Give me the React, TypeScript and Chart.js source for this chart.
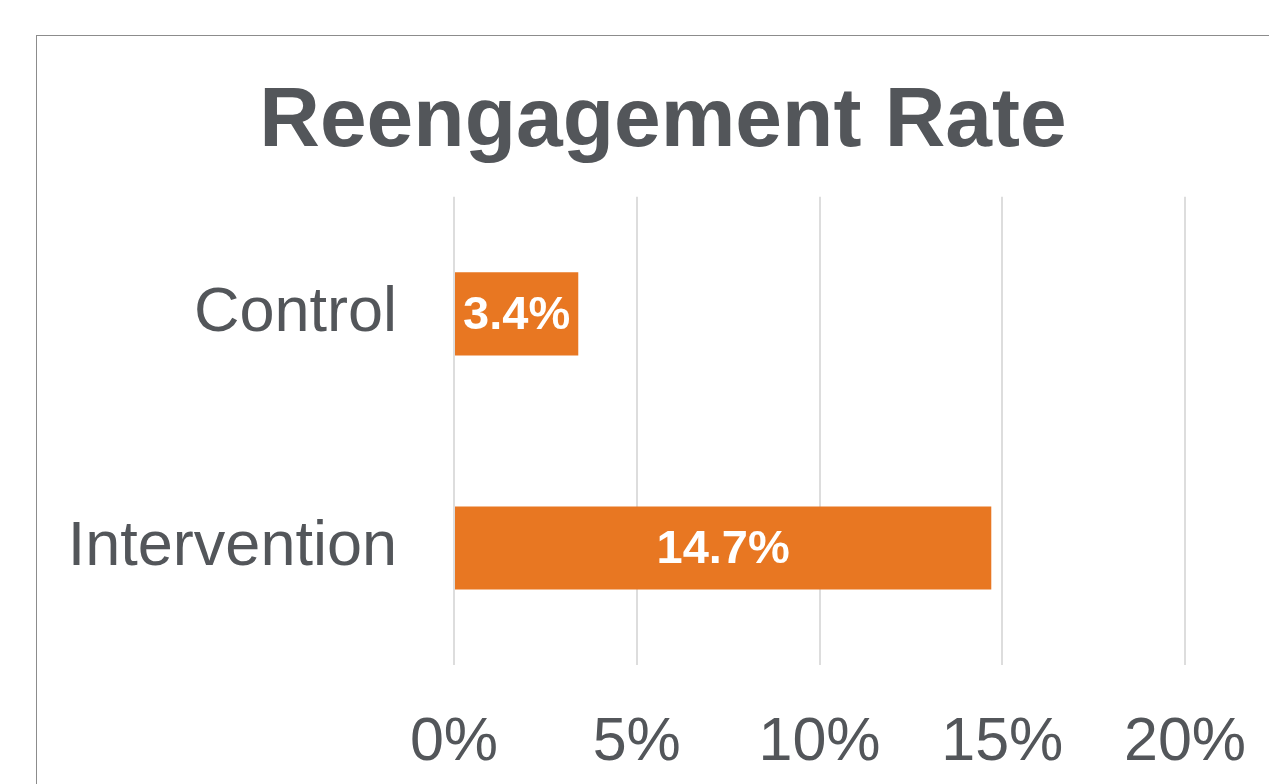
import { useEffect, useRef } from "react";
import { Chart, registerables } from "chart.js";

Chart.register(...registerables);

const chartTitle = "Reengagement Rate";
const categories = ["Control", "Intervention"];
const rates = [3.4, 14.7];
const tickValues = [0, 5, 10, 15, 20];

const TEXT = "#53565A";
const BAR = "#E87722";
const FONT = "'Liberation Sans', Arial, sans-serif";

const W = 1252;
const H = 800;

const barLabels = {
  id: "barLabels",
  afterDatasetsDraw(chart: any) {
    const ctx = chart.ctx;
    const meta = chart.getDatasetMeta(0);
    meta.data.forEach((bar: any, i: number) => {
      const { x, y, base, height } = bar.getProps(["x", "y", "base", "height"], true);
      ctx.save();
      ctx.beginPath();
      ctx.rect(base, y - height / 2, x - base, height);
      ctx.clip();
      ctx.fillStyle = "#FFFFFF";
      ctx.font = `bold 47px ${FONT}`;
      ctx.textAlign = "center";
      ctx.textBaseline = "middle";
      ctx.fillText(rates[i].toFixed(1) + "%", (x + base) / 2, y + 2);
      ctx.restore();
    });
  },
};

export default function App() {
  const ref = useRef<HTMLCanvasElement | null>(null);

  useEffect(() => {
    if (!ref.current) return;
    const chart = new Chart(ref.current, {
      type: "bar",
      data: {
        labels: categories,
        datasets: [
          {
            data: rates,
            backgroundColor: BAR,
            borderWidth: 0,
            barPercentage: 0.355,
            categoryPercentage: 1,
          },
        ],
      },
      options: {
        indexAxis: "y",
        responsive: false,
        animation: false,
        layout: { padding: 0 },
        plugins: {
          legend: { display: false },
          tooltip: { enabled: false },
          title: {
            display: true,
            text: chartTitle,
            color: TEXT,
            font: { family: FONT, size: 84, weight: "bold", lineHeight: 1.2 },
            padding: { top: 36, bottom: 24 },
          },
        },
        scales: {
          x: {
            type: "linear",
            min: 0,
            max: 20,
            afterBuildTicks: (scale: any) => {
              scale.ticks = tickValues.map((v) => ({ value: v }));
            },
            afterFit: (scale: any) => {
              scale.height = H - 629;
              scale.paddingRight = 104;
            },
            ticks: {
              color: TEXT,
              font: { family: FONT, size: 61 },
              padding: 42,
              maxRotation: 0,
              callback: (v: any) => v + "%",
            },
            grid: { color: "#DDDDDD", lineWidth: 2, drawTicks: false },
            border: { display: false },
          },
          y: {
            afterFit: (scale: any) => {
              scale.width = 417;
            },
            ticks: {
              color: TEXT,
              font: { family: FONT, size: 63 },
              padding: 57,
            },
            grid: { display: false, drawTicks: false },
            border: { display: false },
          },
        },
      },
      plugins: [barLabels],
    });
    return () => chart.destroy();
  }, []);

  return (
    <div style={{ position: "fixed", inset: 0, overflow: "hidden", background: "#fff" }}>
      <div
        style={{
          position: "absolute",
          left: 36,
          top: 35,
          width: W,
          height: H,
          border: "1px solid #8C8C8C",
          background: "#fff",
        }}
      >
        <canvas ref={ref} width={W} height={H} style={{ display: "block", width: W, height: H }} />
      </div>
    </div>
  );
}
